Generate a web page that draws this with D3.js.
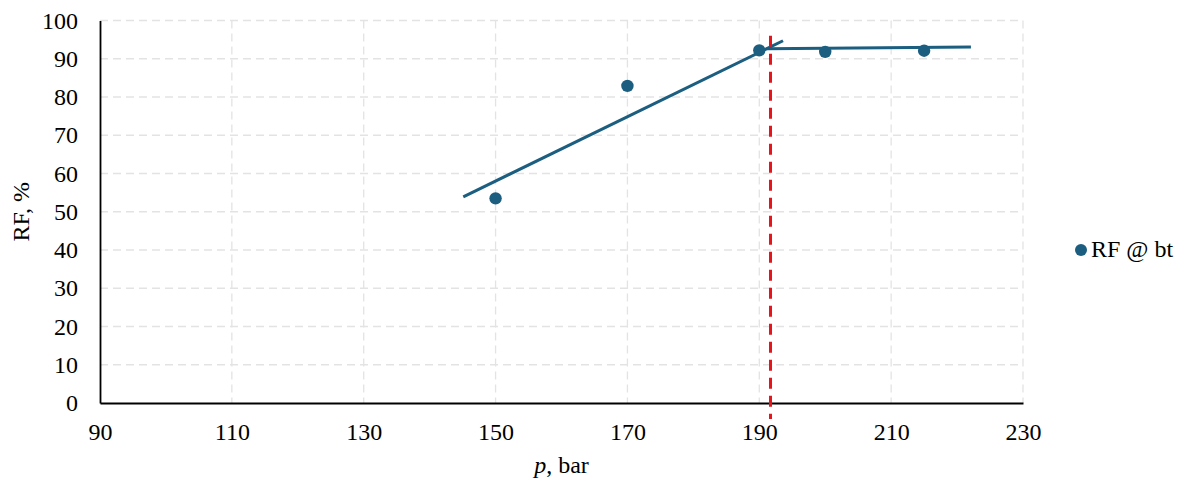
<!DOCTYPE html>
<html><head><meta charset="utf-8">
<script src="https://cdn.jsdelivr.net/npm/d3@7"></script>
<style>body{margin:0;background:#fff}svg{display:block}</style>
</head><body><svg id="c" width="1184" height="482"></svg>
<script>
const pressure = [150, 170, 190, 200, 215];
const rfValues = [53.5, 82.9, 92.2, 91.8, 92.1];
const xTicks = [90, 110, 130, 150, 170, 190, 210, 230];
const yTicks = [0, 10, 20, 30, 40, 50, 60, 70, 80, 90, 100];
const trend1 = [[145.1, 53.9], [193.6, 94.7]];
const trend2 = [[191.1, 92.6], [222.1, 93.1]];
const breakP = 191.7;
const seriesName = "RF @ bt";

const svg = d3.select("#c");
const x = d3.scaleLinear().domain([90, 230]).range([100, 1023]);
const y = d3.scaleLinear().domain([0, 100]).range([403, 20.5]);
const color = "#1b5e80";
const font = "'Liberation Serif','Times New Roman',serif";

// grid
svg.append("g").selectAll("line").data(xTicks.slice(1)).join("line")
  .attr("x1", d => x(d)).attr("x2", d => x(d)).attr("y1", y(100)).attr("y2", y(0))
  .attr("stroke", "#e3e3e3").attr("stroke-width", 1.3).attr("stroke-dasharray", "8,5");
svg.append("g").selectAll("line").data(yTicks.slice(1)).join("line")
  .attr("x1", x(90)).attr("x2", x(230)).attr("y1", d => y(d)).attr("y2", d => y(d))
  .attr("stroke", "#e3e3e3").attr("stroke-width", 1.3).attr("stroke-dasharray", "8,5");

// axes
const xAxis = svg.append("g").attr("transform", `translate(0,${y(0)})`)
  .call(d3.axisBottom(x).tickValues(xTicks).tickSize(0).tickPadding(20).tickFormat(d3.format("d")));
const yAxis = svg.append("g").attr("transform", `translate(${x(90)},0)`)
  .call(d3.axisLeft(y).tickValues(yTicks).tickSize(0).tickPadding(22).tickFormat(d3.format("d")));
[xAxis, yAxis].forEach(g => {
  g.select(".domain").attr("stroke", "#000").attr("stroke-width", 1.8);
  g.selectAll("text").attr("font-family", font).attr("font-size", 24).attr("fill", "#000");
});

// trend lines
const line = d3.line().x(d => x(d[0])).y(d => y(d[1]));
[trend1, trend2].forEach(t => svg.append("path").attr("d", line(t))
  .attr("fill", "none").attr("stroke", color).attr("stroke-width", 3));

// red dashed line
svg.append("line").attr("x1", x(breakP)).attr("x2", x(breakP))
  .attr("y1", y(96)).attr("y2", y(0) + 16)
  .attr("stroke", "#e8141c").attr("stroke-width", 3).attr("stroke-dasharray", "11,7");

// points
svg.append("g").selectAll("circle").data(pressure).join("circle")
  .attr("cx", d => x(d)).attr("cy", (d, i) => y(rfValues[i])).attr("r", 6.2)
  .attr("fill", color);

// axis titles
const xt = svg.append("text").attr("x", x(160)).attr("y", 473).attr("text-anchor", "middle")
  .attr("font-family", font).attr("font-size", 24).attr("fill", "#000");
xt.append("tspan").attr("font-style", "italic").text("p");
xt.append("tspan").text(", bar");
svg.append("text").attr("transform", `translate(29,${y(50)}) rotate(-90)`).attr("text-anchor", "middle")
  .attr("font-family", font).attr("font-size", 24).attr("fill", "#000").text("RF, %");

// legend
svg.append("circle").attr("cx", 1081).attr("cy", 250).attr("r", 6).attr("fill", color);
svg.append("text").attr("x", 1091).attr("y", 257).attr("font-family", font).attr("font-size", 24)
  .attr("fill", "#000").text(seriesName);
</script></body></html>
